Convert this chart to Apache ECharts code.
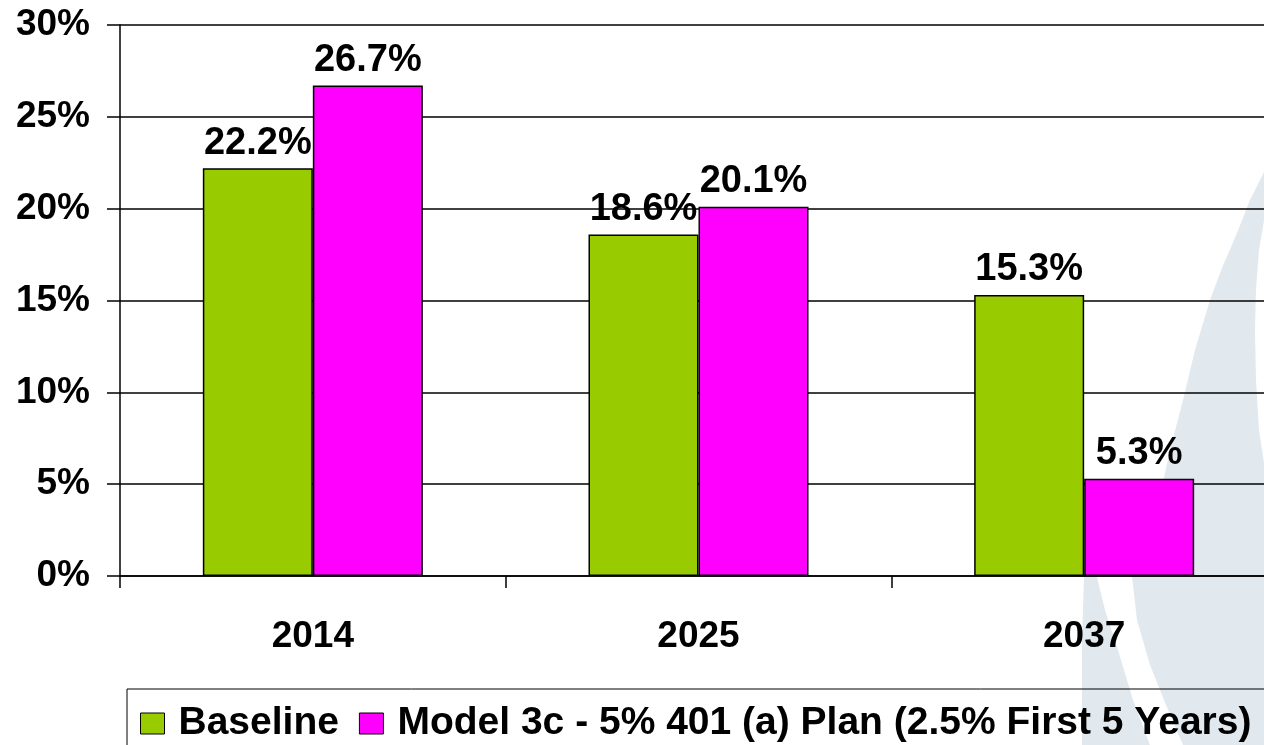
<!DOCTYPE html>
<html lang="en">
<head>
    <meta charset="UTF-8">
    <title>Baseline vs Model 3c</title>
    <style>
        html, body { margin: 0; padding: 0; background: #fff; }
        .bar { width: 1264px; height: 745px; }
    </style>
    <script src="https://cdn.jsdelivr.net/npm/echarts@6/dist/echarts.min.js"></script>
</head>
<body>
    <div class="bar"></div>
    <script>
        // data
        var years = ['2014', '2025', '2037'];
        var baseline = [22.2, 18.6, 15.3];
        var model3c = [26.7, 20.1, 5.3];
        var seriesNames = ['Baseline', 'Model 3c - 5% 401 (a) Plan (2.5% First 5 Years)'];

        var FONT = '"Liberation Sans", Arial, sans-serif';
        var bg = '#E2E9EE';

        // label shown above each bar
        var barLabel = {
            show: true,
            position: 'top',
            distance: 6,
            color: '#000',
            fontFamily: FONT,
            fontWeight: 'bold',
            fontSize: 38,
            formatter: function (p) { return p.value.toFixed(1) + '%'; }
        };

        var option = {
            animation: false,
            backgroundColor: '#fff',
            textStyle: { fontFamily: FONT },

            // faint watermark arc at the right
            graphic: {
                elements: [
                    {
                        type: 'polygon', z: -10, silent: true,
                        shape: {
                            points: [[1264, 172], [1250, 200], [1237, 233], [1222, 268], [1210, 300],
                                     [1195, 350], [1183, 400], [1170, 450], [1159, 500], [1145, 540],
                                     [1132, 577], [1137, 620], [1150, 665], [1166, 705], [1183, 745],
                                     [1264, 745]]
                        },
                        style: { fill: bg }
                    },
                    {
                        type: 'polygon', z: -9, silent: true,
                        shape: {
                            points: [[1265, 215], [1259, 250], [1256, 290], [1255, 330], [1256, 380],
                                     [1259, 430], [1265, 470]]
                        },
                        style: { fill: '#fff' }
                    },
                    {
                        type: 'polygon', z: -10, silent: true,
                        shape: {
                            points: [[1089, 525], [1084, 577], [1082, 640], [1082, 745], [1150, 745],
                                     [1133, 700], [1118, 650], [1105, 610], [1097, 577]]
                        },
                        style: { fill: bg }
                    }
                ]
            },

            grid: {
                left: 120,
                top: 25,
                width: 1157,
                bottom: 169,
                containLabel: false,
                outerBoundsMode: 'none'
            },

            legend: {
                left: 127,
                top: 689,
                width: 1400,
                padding: [15, 40, 14, 13],
                itemGap: 20,
                itemWidth: 24,
                itemHeight: 21,
                borderColor: '#000',
                borderWidth: 1,
                icon: 'rect',
                itemStyle: { borderColor: '#000', borderWidth: 1 },
                textStyle: {
                    color: '#000',
                    fontFamily: FONT,
                    fontWeight: 'bold',
                    fontSize: 39,
                    padding: [0, 0, 0, 9]
                },
                data: seriesNames
            },

            xAxis: {
                type: 'category',
                data: years,
                axisLine: { lineStyle: { color: '#000', width: 1.5 } },
                axisTick: { show: true, length: 12, lineStyle: { color: '#000', width: 1.5 } },
                axisLabel: {
                    color: '#000',
                    fontFamily: FONT,
                    fontWeight: 'bold',
                    fontSize: 37,
                    margin: 42
                }
            },

            yAxis: {
                type: 'value',
                min: 0,
                max: 30,
                interval: 5,
                axisLine: { show: true, lineStyle: { color: '#000', width: 1.5 } },
                axisTick: { show: true, length: 13, lineStyle: { color: '#000', width: 1.5 } },
                splitLine: { lineStyle: { color: '#000', width: 1.5 } },
                axisLabel: {
                    color: '#000',
                    fontFamily: FONT,
                    fontWeight: 'bold',
                    fontSize: 37,
                    margin: 30,
                    formatter: '{value}%'
                }
            },

            series: [
                {
                    name: seriesNames[0],
                    type: 'bar',
                    data: baseline,
                    barWidth: 110,
                    barGap: '0%',
                    itemStyle: { color: '#99CC00', borderColor: '#000', borderWidth: 1.5 },
                    label: barLabel
                },
                {
                    name: seriesNames[1],
                    type: 'bar',
                    data: model3c,
                    barWidth: 110,
                    barGap: '0%',
                    itemStyle: { color: '#FF00FF', borderColor: '#000', borderWidth: 1.5 },
                    label: barLabel
                }
            ]
        };

        var chart = echarts.init(document.querySelector('.bar'));
        chart.setOption(option);
    </script>
</body>
</html>
